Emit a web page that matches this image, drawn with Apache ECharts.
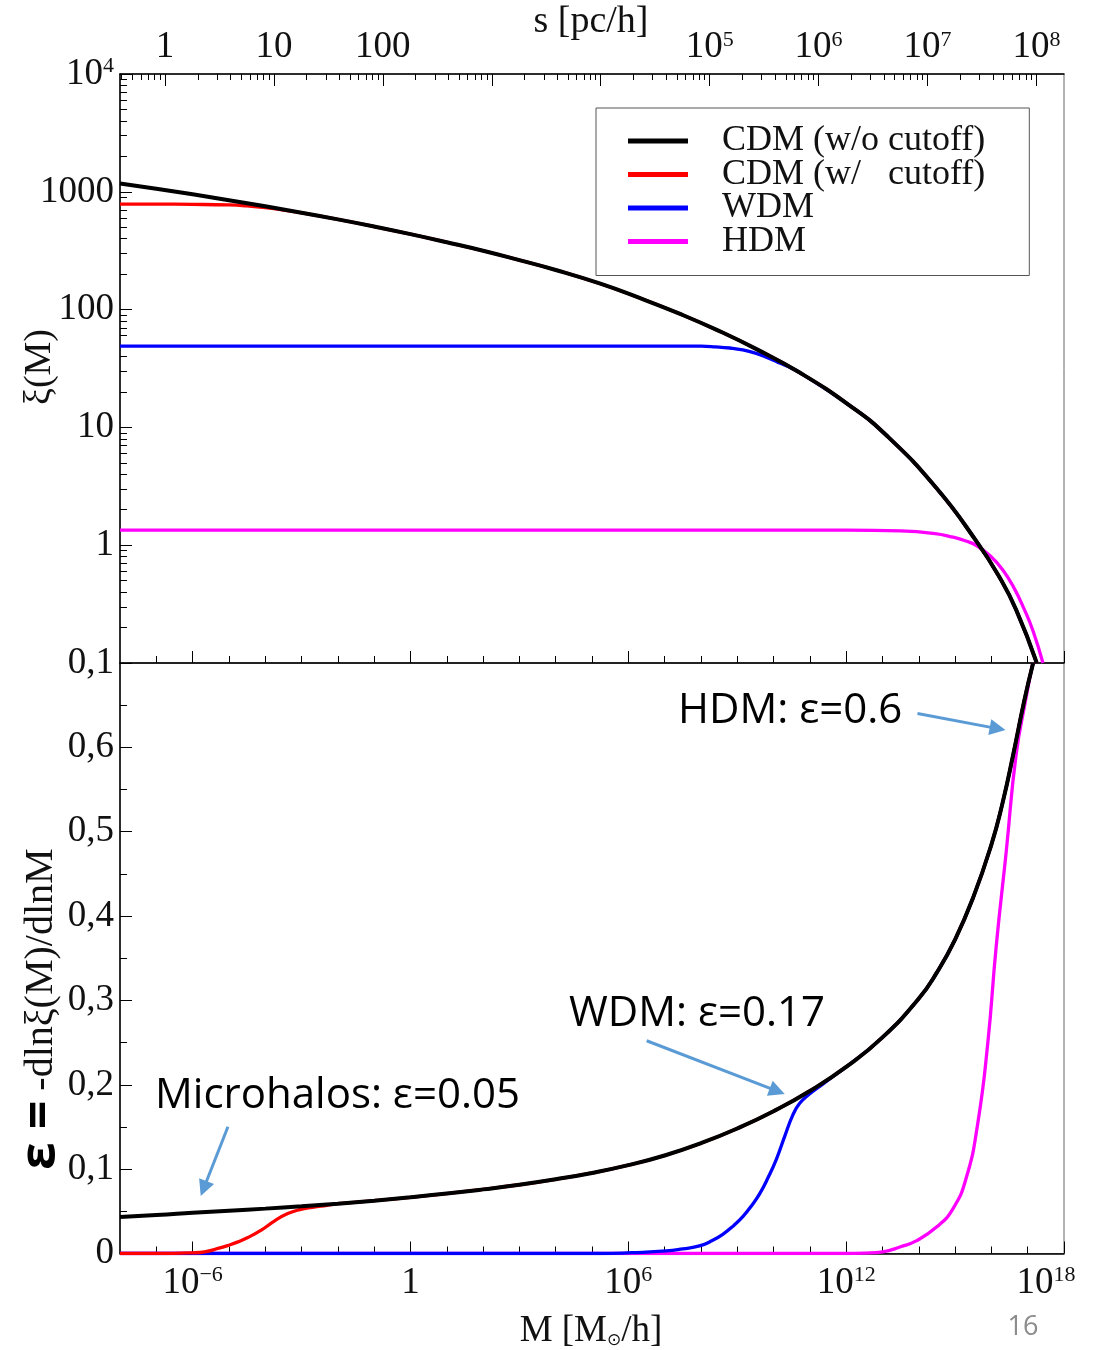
<!DOCTYPE html>
<html>
<head>
<meta charset="utf-8">
<script src="https://cdn.jsdelivr.net/npm/echarts@6/dist/echarts.min.js"></script>
<style>html,body{margin:0;padding:0;background:#fff}#c{width:1099px;height:1350px}</style>
</head>
<body>
<div id="c"></div>
<script>
// ================= DATA (x = log10 M [M_sun/h]) =================
// Top panel: xi(M)
const xiCdmX   = [-8,-7,-6,-5,-4,-3,-2,-1,0,1,2,3,4,5.21,6.31,7.41,8.42,9.53,10.72,12.09,13.1,14.48,15.6,16.22,16.68,17.25];
const xiCdm    = [1175,1062,953,849,753,665,583,507,437,373,316,263,217,166.7,125.6,92.3,67.6,46.2,29.2,15.4,8.61,3.07,1.067,0.537,0.284,0.1];
const xiRedHeadX = [-8,-7,-6,-5,-4.5,-4,-3.5,-3,-2];
const xiRedHead  = [785,785,782,773,759,735,700,662,583];
const xiWdmHeadX = [-8,-4,0,4,7,8,8.4,8.8,9.15,9.5,9.8,10.1,10.35];
const xiWdmHead  = [49,49,49,49,49,48.9,48.3,47.2,45.5,42.7,39.4,36.0,33.3];
const xiHdmX   = [-8,-4,0,4,8,12,13.5,14.4,14.95,15.3,15.6,16.0,16.3,16.6,16.9,17.15,17.42];
const xiHdm    = [1.343,1.343,1.343,1.343,1.343,1.343,1.321,1.259,1.169,1.086,0.989,0.794,0.624,0.447,0.288,0.186,0.1];

// Bottom panel: eps = -dln xi / dln M
const epsCdmX  = [-8,-7,-6,-5,-4,-3,-2,-1,0,1,2,3,4,5,6,7,8,9,10,11,12,13,14,14.5,15,15.5,16,16.3,16.6,16.9,17.15];
const epsCdm   = [0.0434,0.0455,0.0482,0.0508,0.0532,0.0559,0.059,0.0626,0.0666,0.071,0.076,0.0815,0.088,0.0955,0.1047,0.1162,0.1307,0.1482,0.1687,0.1927,0.2212,0.2562,0.3022,0.3332,0.3722,0.4222,0.4847,0.5327,0.5912,0.6542,0.70];
const epsRedHeadX = [-8,-7,-6,-5.67,-5.3,-5.03,-4.75,-4.48,-4.11,-3.74,-3.38,-3.05,-2.7,-2.3];
const epsRedHead  = [0,0,0.0008,0.002,0.006,0.0095,0.0138,0.019,0.0277,0.0387,0.0473,0.052,0.0548,0.0572];
const epsWdmHeadX = [-8,-4,0,4,5.2,6.1,7.05,7.5,7.96,8.3,8.61,8.9,9.16,9.4,9.62,9.85,10.08,10.3,10.53,10.72,10.99,11.3,11.63];
const epsWdmHead  = [0,0,0,0,0,0.001,0.003,0.0055,0.009,0.015,0.023,0.033,0.044,0.057,0.071,0.09,0.112,0.138,0.164,0.178,0.189,0.199,0.2095];
const epsHdmX  = [-8,-4,0,4,8,12,12.5,13.01,13.5,13.93,14.48,14.94,15.31,15.62,15.9,16.13,16.41,16.68,16.96,17.14];
const epsHdm   = [0,0,0,0,0,0,0.0005,0.002,0.008,0.015,0.031,0.053,0.09,0.153,0.249,0.363,0.477,0.591,0.66,0.70];

// Names
const seriesNames = ['CDM (w/o cutoff)', 'CDM (w/   cutoff)', 'WDM', 'HDM'];

// Tick labels
const mLabelExp  = [-6, 0, 6, 12, 18];          // bottom: 10^k M_sun/h
const xiLabelExp = [-1, 0, 1, 2, 3, 4];         // top-left: 10^k
const sLabelExp  = [0, 1, 2, 5, 6, 7, 8];       // top: s = 10^k pc/h
const sOffset    = -6.76;                       // log10 M at s = 1 pc/h  (M ∝ s^3)

// Annotations (arrows in data coords of bottom panel)
const annTexts  = ['HDM: ε=0.6', 'WDM: ε=0.17', 'Microhalos: ε=0.05'];
const arrowFrom = [[13.965, 0.6401], [6.506, 0.2522], [-5.027, 0.1502]];
const arrowTo   = [[16.173, 0.6222], [10.103, 0.1924], [-5.696, 0.0770]];

// ================= BUILD =================
const SERIF = '"Liberation Serif", "DejaVu Serif", serif';
const SANS = '"Open Sans", "Noto Sans", sans-serif';
const L = Math.log10;
const pts = (xs, ys, f) => xs.map((x, i) => [x, f ? f(ys[i]) : ys[i]]);
const tailFrom = (xs, ys, x0) => { const i = xs.findIndex(v => v > x0); return [xs.slice(i), ys.slice(i)]; };

// series sharing the CDM curve after they merge
const [rT_x, rT_y] = tailFrom(xiCdmX, xiCdm, -2);
const xiRedX = xiRedHeadX.concat(rT_x), xiRed = xiRedHead.concat(rT_y);
const [wT_x, wT_y] = tailFrom(xiCdmX, xiCdm, 10.35);
const xiWdmX = xiWdmHeadX.concat(wT_x), xiWdm = xiWdmHead.concat(wT_y);
const [reT_x, reT_y] = tailFrom(epsCdmX, epsCdm, -2.3);
const epsRedX = epsRedHeadX.concat(reT_x), epsRed = epsRedHead.concat(reT_y);
const [weT_x, weT_y] = tailFrom(epsCdmX, epsCdm, 11.63);
const epsWdmX = epsWdmHeadX.concat(weT_x), epsWdm = epsWdmHead.concat(weT_y);

const rangeInt = (a, b) => { const r = []; for (let i = a; i <= b; i++) r.push(i); return r; };
const mMinor = rangeInt(-7, 17).filter(v => mLabelExp.indexOf(v) < 0);
const xiMinor = [];
for (let k = -1; k <= 3; k++) for (let m = 2; m <= 9; m++) xiMinor.push(k + L(m));
const sMajorPos = rangeInt(0, 8).map(k => sOffset + 3 * k);
const sLabelPos = sLabelExp.map(k => sOffset + 3 * k);
const sMinorPos = [];
for (let k = -1; k <= 8; k++) for (let m = 2; m <= 9; m++) {
  const v = sOffset + 3 * (k + L(m));
  if (v > -8 && v < 18) sMinorPos.push(v);
}

const FS = 37;
const richLab = {
  b: { fontFamily: SERIF, fontSize: FS, color: '#111' },
  s: { fontFamily: SERIF, fontSize: 22, color: '#111', verticalAlign: 'top' },
  pad: { width: 36 }
};
const sup = (e, last) => '{b|10}{s|' + String(e).replace('-', '\u2212') + '}' + (last ? '{pad|}' : '');

const lineBlack = { color: '#000', width: 1.5 };
const tickStyle = { color: '#000', width: 1 };

function xAx(grid, pos, ticks, len, opts) {
  return Object.assign({
    gridIndex: grid, type: 'value', min: -8, max: 18, position: pos,
    axisLine: { show: false, onZero: false },
    axisTick: { show: true, inside: true, length: len, customValues: ticks, lineStyle: tickStyle },
    axisLabel: { show: false },
    splitLine: { show: false }
  }, opts || {});
}

const xAxis = [
  xAx(0, 'bottom', mLabelExp, 12, { axisLine: { show: true, onZero: false, lineStyle: lineBlack } }),
  xAx(0, 'bottom', mMinor, 7),
  xAx(0, 'top', sMajorPos, 12, {
    axisLine: { show: true, onZero: false, lineStyle: lineBlack },
    axisLabel: {
      show: true, customValues: sLabelPos, margin: 8, fontFamily: SERIF, fontSize: FS, color: '#111', rich: richLab,
      formatter: v => { const k = Math.round((v - sOffset) / 3); return k === 0 ? '1' : k === 1 ? '10' : k === 2 ? '100' : sup(k); }
    }
  }),
  xAx(0, 'top', sMinorPos, 6),
  xAx(1, 'bottom', mLabelExp, 12, {
    axisLine: { show: true, onZero: false, lineStyle: lineBlack },
    axisLabel: {
      show: true, customValues: mLabelExp, margin: 11, fontFamily: SERIF, fontSize: FS, color: '#111', rich: richLab,
      formatter: v => v === 0 ? '{b|1}' : sup(v, v === 18)
    }
  }),
  xAx(1, 'bottom', mMinor, 7)
];

const yAxis = [
  {
    gridIndex: 0, type: 'value', min: -1, max: 4, interval: 1, position: 'left',
    axisLine: { show: true, onZero: false, lineStyle: lineBlack },
    axisTick: { show: true, inside: true, length: 12, lineStyle: tickStyle },
    axisLabel: {
      show: true, margin: 6, fontFamily: SERIF, fontSize: FS, color: '#111', rich: richLab,
      customValues: xiLabelExp,
      formatter: v => { const k = Math.round(v); return k === -1 ? '0,1' : k === 4 ? sup(4) : String(Math.pow(10, k)); }
    },
    splitLine: { show: false }
  },
  {
    gridIndex: 0, type: 'value', min: -1, max: 4, position: 'left',
    axisLine: { show: false, onZero: false },
    axisTick: { show: true, inside: true, length: 7, customValues: xiMinor, lineStyle: tickStyle },
    axisLabel: { show: false }, splitLine: { show: false }
  },
  {
    gridIndex: 1, type: 'value', min: 0, max: 0.7, interval: 0.1, position: 'left',
    axisLine: { show: true, onZero: false, lineStyle: lineBlack },
    axisTick: { show: true, inside: true, length: 12, lineStyle: tickStyle },
    minorTick: { show: true, splitNumber: 2, length: 7, lineStyle: tickStyle },
    axisLabel: {
      show: true, margin: 6, fontFamily: SERIF, fontSize: FS, color: '#111', showMaxLabel: false,
      formatter: v => v === 0 ? '0' : v.toFixed(1).replace('.', ',')
    },
    splitLine: { show: false }
  }
];

function line(name, color, width, data, xi, yi, extra) {
  return Object.assign({
    type: 'line', name: name, data: data, xAxisIndex: xi, yAxisIndex: yi,
    showSymbol: false, symbol: 'none', smooth: 0.5, clip: true, silent: true,
    lineStyle: { color: color, width: width }, itemStyle: { color: color },
    emphasis: { disabled: true }
  }, extra || {});
}

const arrowData = arrowFrom.map((f, i) => [{ coord: f }, { coord: arrowTo[i] }]);

const series = [
  line(seriesNames[3], '#ff00ff', 3.3, pts(xiHdmX, xiHdm, L), 0, 0),
  line(seriesNames[2], '#0000ff', 3.3, pts(xiWdmX, xiWdm, L), 0, 0),
  line(seriesNames[1], '#ff0000', 3.3, pts(xiRedX, xiRed, L), 0, 0),
  line(seriesNames[0], '#000000', 4, pts(xiCdmX, xiCdm, L), 0, 0),
  line(seriesNames[3], '#ff00ff', 3.3, pts(epsHdmX, epsHdm), 4, 2),
  line(seriesNames[2], '#0000ff', 3.3, pts(epsWdmX, epsWdm), 4, 2),
  line(seriesNames[1], '#ff0000', 3.3, pts(epsRedX, epsRed), 4, 2),
  line(seriesNames[0], '#000000', 4, pts(epsCdmX, epsCdm), 4, 2, {
    markLine: {
      silent: true, animation: false, symbol: ['none', 'triangle'], symbolSize: 16,
      lineStyle: { color: '#5B9BD5', width: 3, type: 'solid' },
      itemStyle: { color: '#5B9BD5' },
      label: { show: false }, emphasis: { disabled: true },
      data: arrowData
    }
  })
];

const center = { align: 'center', verticalAlign: 'middle', textAlign: 'center', textVerticalAlign: 'middle' };
const annPos = [[678, 711], [569, 1014], [155, 1096]];
const graphic = [
  { type: 'text', x: 591, y: 22, style: Object.assign({ text: 's [pc/h]', fontFamily: SERIF, fontSize: 38, fill: '#111' }, center) },
  { type: 'text', x: 591, y: 1331, style: Object.assign({
      text: '{b|M [M}{u|\u2299}{b|/h]}', rich: { b: { fontFamily: SERIF, fontSize: 37, fill: '#111' }, u: { fontFamily: '"DejaVu Sans", sans-serif', fontSize: 17, fill: '#111', verticalAlign: 'bottom' } } }, center) },
  { type: 'text', x: 40, y: 367, rotation: Math.PI / 2, style: Object.assign({ text: '\u03be(M)', fontFamily: SERIF, fontSize: 38, fill: '#111' }, center) },
  { type: 'text', x: 41, y: 1170, rotation: Math.PI / 2, style: {
      text: '{e|\u03b5 =}{t| -dln\u03be(M)/dlnM}',
      rich: { e: { fontFamily: SANS, fontWeight: 'bold', fontSize: 50, fill: '#000' }, t: { fontFamily: SERIF, fontSize: 40, fill: '#111' } },
      align: 'left', verticalAlign: 'middle', textAlign: 'left', textVerticalAlign: 'middle' } },
  { type: 'text', x: 1023, y: 1327, style: Object.assign({ text: '16', fontFamily: SANS, fontSize: 27, fill: '#8c8c8c' }, center) }
].concat(annTexts.map((t, i) => ({
  type: 'text', x: annPos[i][0], y: annPos[i][1], z: 100,
  style: { text: t, fontFamily: SANS, fontSize: 42, fill: '#000', align: 'left', verticalAlign: 'middle', textAlign: 'left', textVerticalAlign: 'middle' }
})));

const option = {
  animation: false,
  backgroundColor: '#fff',
  grid: [
    { left: 120, top: 74, width: 944, height: 589, show: true, borderColor: '#666', borderWidth: 1, backgroundColor: 'transparent' },
    { left: 120, top: 663, width: 944, height: 590.5, show: true, borderColor: '#666', borderWidth: 1, backgroundColor: 'transparent' }
  ],
  legend: {
    data: seriesNames, orient: 'vertical', left: 596, top: 108, align: 'left',
    icon: 'rect', itemWidth: 60, itemHeight: 5, itemGap: -2.5,
    padding: [15, 44, 16, 32], borderColor: '#555', borderWidth: 1, backgroundColor: '#fff',
    selectedMode: false,
    formatter: n => '{sp|}{t|' + n + '}',
    textStyle: {
      fontFamily: SERIF, fontSize: 36, lineHeight: 33, color: '#111',
      rich: { sp: { width: 29, fontSize: 36, lineHeight: 33 }, t: { fontFamily: SERIF, fontSize: 36, lineHeight: 33, color: '#111' } }
    }
  },
  xAxis: xAxis,
  yAxis: yAxis,
  series: series,
  graphic: graphic
};
const chart = echarts.init(document.getElementById('c'));
chart.setOption(option);
</script>
</body>
</html>
